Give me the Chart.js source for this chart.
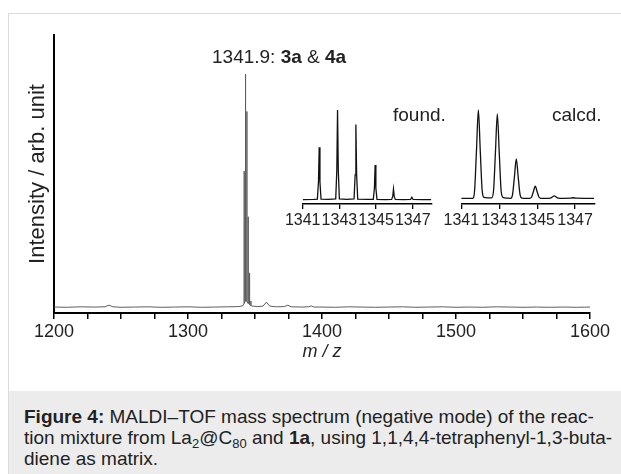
<!DOCTYPE html>
<html>
<head>
<meta charset="utf-8">
<script src="https://cdn.jsdelivr.net/npm/chart.js@4.4.1/dist/chart.umd.min.js"></script>
<style>
  body { margin: 0; width: 621px; height: 474px; overflow: hidden; background: #fff;
         font-family: "Liberation Sans", Arial, sans-serif; position: relative; }
  #frame { position: absolute; left: 8px; top: 13px; width: 700px; height: 500px;
           border: 1px solid #dcdcdc; box-sizing: border-box; }
  #caption { position: absolute; left: 9px; top: 391px; width: 700px; height: 100px; background: #ececec; }
  #capText { position: absolute; left: 24px; top: 406px; font-size: 19px; line-height: 21px; color: #222; white-space: nowrap; }
  #capText sub { font-size: 13px; vertical-align: -4px; line-height: 0; }
  canvas { position: absolute; }
  .lbl { position: absolute; font-size: 19px; line-height: 22px; color: #222; white-space: nowrap; }
</style>
</head>
<body>
<div id="frame"></div>
<div id="caption"></div>
<div id="capText"><b>Figure 4:</b> MALDI–TOF mass spectrum (negative mode) of the reac-<br>tion mixture from La<sub>2</sub>@C<sub>80</sub> and <b>1a</b>, using 1,1,4,4-tetraphenyl-1,3-buta-<br>diene as matrix.</div>

<canvas id="mainChart" width="621" height="392" style="left:0;top:0"></canvas>
<canvas id="foundChart" width="160" height="135" style="left:280px;top:100px"></canvas>
<canvas id="calcChart" width="170" height="135" style="left:440px;top:100px"></canvas>

<div class="lbl" style="left:212px;top:46px">1341.9: <b>3a</b> &amp; <b>4a</b></div>
<div class="lbl" style="left:393px;top:104px">found.</div>
<div class="lbl" style="left:552px;top:104px">calcd.</div>

<script>
// full spectrum, m/z vs relative intensity
const mainMz = [1200, 1210, 1220, 1230, 1238, 1241, 1244, 1250, 1260, 1270, 1280, 1290, 1300, 1310, 1320, 1330, 1338,
  1341.0, 1341.8, 1341.9, 1342.0, 1342.8, 1342.9, 1343.0, 1343.8, 1343.9, 1344.0, 1344.8, 1344.9, 1345.0,
  1345.8, 1345.9, 1346.0, 1346.8, 1346.9, 1347.0, 1348, 1352, 1356, 1358.5, 1361, 1366, 1372, 1374.5, 1377,
  1385, 1390, 1392, 1394, 1400, 1410, 1420, 1430, 1440, 1450, 1460, 1470, 1480, 1490, 1500, 1510, 1520,
  1530, 1540, 1550, 1560, 1570, 1580, 1590, 1600];
const mainInt = [0.004, 0.003, 0.005, 0.004, 0.005, 0.012, 0.005, 0.003, 0.004, 0.005, 0.003, 0.004, 0.005, 0.003, 0.004, 0.005, 0.006,
  0.01, 0.02, 0.585, 0.02, 0.03, 1.0, 0.03, 0.03, 0.84, 0.03, 0.02, 0.39, 0.02,
  0.015, 0.15, 0.015, 0.01, 0.03, 0.01, 0.008, 0.006, 0.008, 0.025, 0.008, 0.005, 0.006, 0.012, 0.005,
  0.004, 0.005, 0.009, 0.004, 0.004, 0.003, 0.005, 0.004, 0.003, 0.004, 0.005, 0.003, 0.004, 0.005, 0.003, 0.004, 0.003,
  0.005, 0.004, 0.003, 0.004, 0.003, 0.004, 0.003, 0.004];
const mainLabels = [1200, 1300, 1400, 1500, 1600];

// inset: measured isotope pattern
const foundMz = [1341.0, 1341.6, 1341.8, 1341.86, 1341.9, 1341.94, 1342.0, 1342.4, 1342.8, 1342.86, 1342.9, 1342.94, 1343.0,
  1343.4, 1343.8, 1343.86, 1343.9, 1343.94, 1344.0, 1344.5, 1344.85, 1344.91, 1344.95, 1344.99, 1345.05, 1345.5,
  1345.85, 1345.91, 1345.95, 1345.99, 1346.05, 1346.5, 1346.88, 1346.95, 1347.02, 1347.5, 1348.0];
const foundInt = [0.005, 0.008, 0.01, 0.2, 0.585, 0.2, 0.01, 0.008, 0.012, 0.33, 1.0, 0.33, 0.012,
  0.008, 0.012, 0.28, 0.84, 0.28, 0.01, 0.006, 0.008, 0.13, 0.39, 0.13, 0.008, 0.005,
  0.006, 0.04, 0.12, 0.04, 0.006, 0.004, 0.006, 0.03, 0.006, 0.004, 0.004];

// inset: calculated isotope pattern
const calcMz = [1341.0, 1341.6, 1341.7, 1341.8, 1341.9, 1342.0, 1342.1, 1342.2, 1342.4, 1342.6, 1342.7, 1342.8, 1342.9,
  1343.0, 1343.1, 1343.2, 1343.4, 1343.6, 1343.7, 1343.8, 1343.9, 1344.0, 1344.1, 1344.2, 1344.4, 1344.6, 1344.7,
  1344.8, 1344.9, 1345.0, 1345.1, 1345.2, 1345.4, 1345.7, 1345.8, 1345.9, 1346.0, 1346.1, 1346.4, 1346.75, 1346.9,
  1347.05, 1347.5, 1348.0];
const calcInt = [0, 0, 0.085, 0.54, 1.0, 0.54, 0.09, 0.01, 0.005, 0.005, 0.085, 0.52, 0.955,
  0.52, 0.085, 0.01, 0.002, 0, 0.04, 0.24, 0.445, 0.24, 0.04, 0.003, 0, 0, 0.012,
  0.074, 0.137, 0.074, 0.012, 0, 0, 0.003, 0.015, 0.027, 0.015, 0.003, 0, 0.001, 0.006,
  0.001, 0, 0];
const insetTicks = [1341, 1343, 1345, 1347];

Chart.defaults.font.family = '"Liberation Sans", Arial, sans-serif';
Chart.defaults.color = '#222';

function pts(xs, ys) {
  return xs.map((x, i) => ({ x: x, y: ys[i] }));
}

new Chart(document.getElementById('mainChart'), {
  type: 'line',
  data: {
    datasets: [{
      data: pts(mainMz, mainInt),
      borderColor: '#5e5e5e',
      borderWidth: 1,
      pointRadius: 0,
      tension: 0
    }]
  },
  options: {
    responsive: false,
    animation: false,
    devicePixelRatio: 1,
    layout: { padding: { top: 35, right: 31, left: 0, bottom: 0 } },
    plugins: { legend: { display: false }, tooltip: { enabled: false } },
    scales: {
      x: {
        type: 'linear',
        min: 1200,
        max: 1600,
        afterFit: s => { s.height = 79; },
        ticks: {
          stepSize: 25,
          autoSkip: false,
          maxRotation: 0,
          padding: 2,
          font: { size: 18 },
          color: '#222',
          callback: v => mainLabels.includes(v) ? String(v) : ''
        },
        grid: { drawOnChartArea: false, drawTicks: true, tickLength: 6, color: '#000', lineWidth: 1.5 },
        border: { color: '#000', width: 2 },
        title: { display: true, text: 'm / z', font: { size: 18, style: 'italic' }, color: '#222', padding: { top: 0, bottom: 29 } }
      },
      y: {
        min: -0.0214,
        max: 1.167,
        afterFit: s => { s.width = 54; },
        ticks: { display: false },
        grid: { display: false },
        border: { color: '#000', width: 2 },
        title: { display: true, text: 'Intensity / arb. unit', font: { size: 22 }, color: '#222', padding: { top: 25, bottom: 0 } }
      }
    }
  }
});

function inset(id, xs, ys, padLeft, padRight, yMin, yMax, smooth) {
  new Chart(document.getElementById(id), {
    type: 'line',
    data: {
      datasets: [{
        data: pts(xs, ys),
        borderColor: '#111',
        borderWidth: 1.3,
        pointRadius: 0,
        cubicInterpolationMode: smooth ? 'monotone' : 'default',
        tension: 0
      }]
    },
    options: {
      responsive: false,
      animation: false,
      devicePixelRatio: 1,
      layout: { padding: { top: 5, right: padRight, left: padLeft, bottom: 0 } },
      plugins: { legend: { display: false }, tooltip: { enabled: false } },
      scales: {
        x: {
          type: 'linear',
          min: 1341,
          max: 1348.05,
          afterFit: s => { s.height = 31; },
          afterBuildTicks: s => { s.ticks = insetTicks.map(v => ({ value: v })); },
          ticks: { autoSkip: false, maxRotation: 0, padding: 2, font: { size: 16 }, color: '#222',
                   callback: v => String(v) },
          grid: { drawOnChartArea: false, drawTicks: true, tickLength: 5, color: '#000', lineWidth: 1.3 },
          border: { color: '#000', width: 1.5 }
        },
        y: { display: false, min: yMin, max: yMax }
      }
    }
  });
}

inset('foundChart', foundMz, foundInt, 22.7, 8, -0.0444, 1.0556, false);
inset('calcChart', calcMz, calcInt, 21.3, 15, -0.0645, 1.0567, true);
</script>
</body>
</html>
